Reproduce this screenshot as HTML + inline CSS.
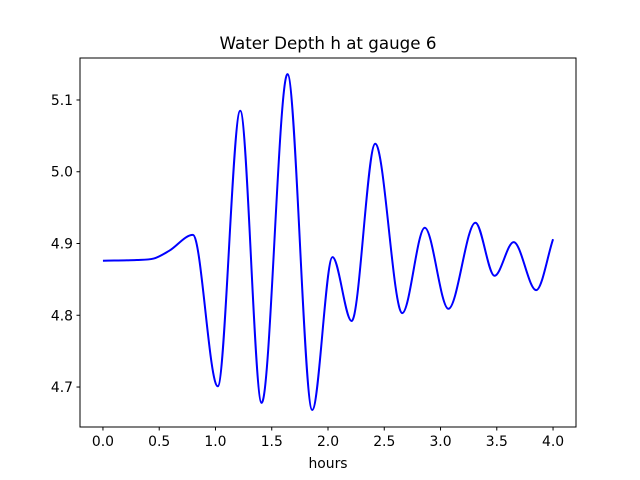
<!DOCTYPE html>
<html><head><meta charset="utf-8">
<style>body{margin:0;background:#fff}svg{display:block;font-family:"DejaVu Sans","Liberation Sans",sans-serif}</style>
</head><body>
<svg id="chart" width="640" height="480">
<rect width="640" height="480" fill="#fff"/>
<text x="328" y="49" font-size="16.7" text-anchor="middle">Water Depth h at gauge 6</text>
<g id="plot"></g>
<rect x="80" y="58" width="496" height="369" fill="none" stroke="#000" stroke-width="1"/>
<text x="328" y="468" font-size="13.9" text-anchor="middle">hours</text>
</svg>
<script>
const hours = [0,0.3,0.45,0.59,0.80,1.02,1.22,1.41,1.64,1.86,2.04,2.21,2.42,2.66,2.86,3.07,3.31,3.48,3.65,3.85,4.0];
const depth = [4.876,4.877,4.879,4.890,4.912,4.701,5.085,4.678,5.136,4.668,4.881,4.792,5.039,4.803,4.922,4.809,4.929,4.855,4.902,4.835,4.906];
const xTicks = [0,0.5,1,1.5,2,2.5,3,3.5,4];
const xTickLabels = ["0.0","0.5","1.0","1.5","2.0","2.5","3.0","3.5","4.0"];
const yTicks = [4.7,4.8,4.9,5.0,5.1];
const yTickLabels = ["4.7","4.8","4.9","5.0","5.1"];

const NS="http://www.w3.org/2000/svg";
const X0=80,X1=576,Y0=58,Y1=427;
const xMin=-0.204,xMax=4.204,yMin=4.6443,yMax=5.1585;
const sx=v=>X0+(v-xMin)/(xMax-xMin)*(X1-X0);
const sy=v=>Y1-(v-yMin)/(yMax-yMin)*(Y1-Y0);
const g=document.getElementById('plot');
function mk(t,a){const e=document.createElementNS(NS,t);for(const k in a)e.setAttribute(k,a[k]);return e;}

xTicks.forEach((t,i)=>{
  const x=sx(t);
  const l=mk('line',{x1:x,x2:x,y1:Y1,y2:Y1+3.5,stroke:'#000'});
  
  
  g.appendChild(l);
  const tx=mk('text',{x:x,y:Y1+19,'font-size':13.9,'text-anchor':'middle'});
  tx.textContent=xTickLabels[i];
  
  
  g.appendChild(tx);
});
yTicks.forEach((t,i)=>{
  const y=sy(t);
  const l=mk('line',{x1:X0-3.5,x2:X0,y1:y,y2:y,stroke:'#000'});
  
  
  g.appendChild(l);
  const tx=mk('text',{x:X0-7,y:y+5,'font-size':13.9,'text-anchor':'end'});
  tx.textContent=yTickLabels[i];
  
  
  g.appendChild(tx);
});

// monotone cubic interpolation in pixel space
const px=hours.map(sx), py=depth.map(sy), n=px.length;
const d=[],m=[];
for(let i=0;i<n-1;i++)d.push((py[i+1]-py[i])/(px[i+1]-px[i]));
m[0]=d[0];m[n-1]=d[n-2];
for(let i=1;i<n-1;i++){m[i]=(d[i-1]*d[i]<=0)?0:(d[i-1]+d[i])/2;}
for(let i=0;i<n-1;i++){
  if(d[i]===0){m[i]=0;m[i+1]=0;continue;}
  const a=m[i]/d[i],b=m[i+1]/d[i],s=a*a+b*b;
  if(s>9){const t=3/Math.sqrt(s);m[i]=t*a*d[i];m[i+1]=t*b*d[i];}
}
let p=`M${px[0]},${py[0]}`;
for(let i=0;i<n-1;i++){
  const h=(px[i+1]-px[i])/3;
  p+=` C${px[i]+h},${py[i]+m[i]*h} ${px[i+1]-h},${py[i+1]-m[i+1]*h} ${px[i+1]},${py[i+1]}`;
}
const line=mk('path',{d:p,fill:'none',stroke:'#0000ff','stroke-width':2});


g.appendChild(line);
</script>
</body></html>
